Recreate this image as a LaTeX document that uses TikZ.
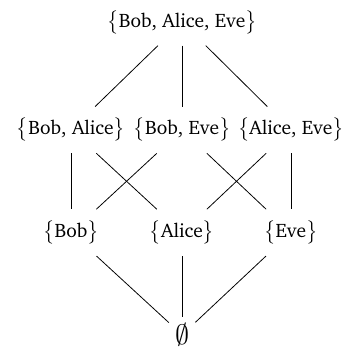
\documentclass[tikz,border=0pt]{standalone}
\usepackage[T1]{fontenc}
\renewcommand{\rmdefault}{bch}
\usepackage{tikz}
\usetikzlibrary{positioning}
\tikzstyle{set}=[inner sep=3pt, outer sep=3pt]
\tikzstyle{none}=[inner sep=1.5pt, outer sep=1.7pt]
\tikzstyle{edge}=[black, line width=0.4pt]

\begin{document}
\begin{tikzpicture}
    \path [use as bounding box] (-3.28,-0.22) rectangle (2.92,6.03);
        \node [set] (bae) at (0,5.63) {$\big\{$Bob, Alice, Eve$\big\}$};
        \node [set] (ba) at (-2,3.69) {$\big\{$Bob, Alice$\big\}$};
        \node [set] (be) at (0,3.69) {$\big\{$Bob, Eve$\big\}$};
        \node [set] (ae) at (1.96,3.69) {$\big\{$Alice, Eve$\big\}$};
        \node [set] (b) at (-2,1.84) {$\big\{$Bob$\big\}$};
        \node [set] (a) at (0,1.84) {$\big\{$Alice$\big\}$};
        \node [set] (e) at (1.96,1.84) {$\big\{$Eve$\big\}$};
        \node [none] (empty) at (0,0) {\Large$\emptyset$};
        \draw [edge] (bae) -- (ba);
        \draw [edge] (bae) -- (be);
        \draw [edge] (bae) -- (ae);
        \draw [edge] (ba) -- (b);
        \draw [edge] (ba) -- (a);
        \draw [edge] (be) -- (b);
        \draw [edge] (be) -- (e);
        \draw [edge] (ae) -- (a);
        \draw [edge] (ae) -- (e);
        \draw [edge] (b) -- (empty);
        \draw [edge] (a) -- (empty);
        \draw [edge] (e) -- (empty);
    \end{tikzpicture}
\end{document}
